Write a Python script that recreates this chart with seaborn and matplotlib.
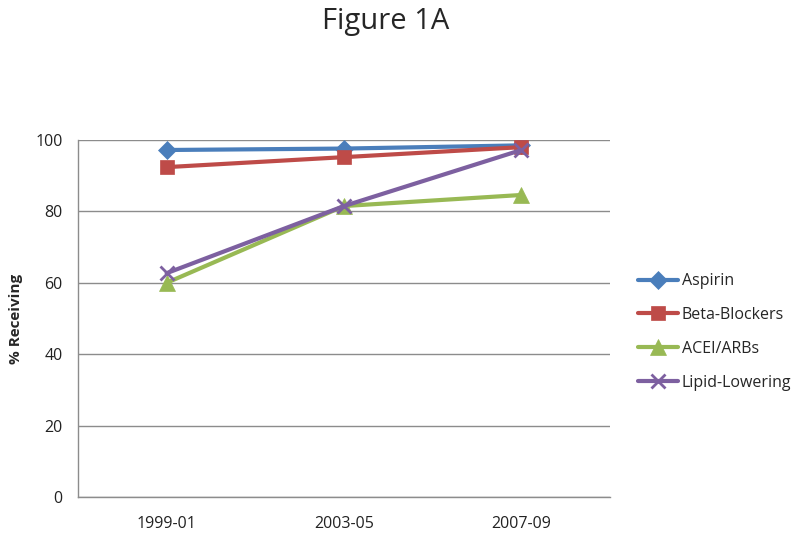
import matplotlib
matplotlib.use("Agg")
import matplotlib.pyplot as plt
import seaborn as sns
import pandas as pd

periods = ["1999-01", "2003-05", "2007-09"]
aspirin = [97.2, 97.6, 98.5]
beta_blockers = [92.4, 95.2, 98.0]
acei_arbs = [60.0, 81.5, 84.6]
lipid_lowering = [62.7, 81.5, 97.2]
series_names = ["Aspirin", "Beta-Blockers", "ACEI/ARBs", "Lipid-Lowering"]
y_ticks = [0, 20, 40, 60, 80, 100]

sns.set_theme(style="white")
plt.rcParams["font.family"] = ["Open Sans", "DejaVu Sans"]

series_vals = [aspirin, beta_blockers, acei_arbs, lipid_lowering]
colors = ["#4A7EBB", "#BE4B48", "#98B954", "#7D60A0"]
marker_list = ["D", "s", "^", "x"]
msizes = [9, 10, 11, 10]

fig = plt.figure(figsize=(8, 5.36), dpi=100)
ax = fig.add_axes([78/800, 1-497/536, (610-78)/800, (497-140)/536])

for name, vals, c, m, ms in zip(series_names, series_vals, colors, marker_list, msizes):
    d = pd.DataFrame({"period": periods, "value": vals})
    sns.lineplot(data=d, x="period", y="value", sort=False, color=c, marker=m,
                 markersize=ms, markeredgecolor=c, markerfacecolor=c,
                 markeredgewidth=2 if m == "x" else 0.5,
                 linewidth=3, label=name, ax=ax)

ax.set_xlim(-0.5, 2.5)
ax.set_ylim(0, 100)
ax.set_yticks(y_ticks)
ax.yaxis.grid(True, color="#8c8c8c", linewidth=1)
ax.set_axisbelow(True)
for s in ["top", "right"]:
    ax.spines[s].set_visible(False)
for s in ["left", "bottom"]:
    ax.spines[s].set_color("#8c8c8c")
    ax.spines[s].set_linewidth(1)
ax.tick_params(axis="both", length=0, labelsize=11.5, colors="#222222")
ax.tick_params(axis="x", pad=14)
ax.tick_params(axis="y", pad=11)
ax.set_xlabel("")
ax.set_ylabel("% Receiving", fontsize=11, fontweight="bold", labelpad=9)

leg = ax.legend(loc="center left", frameon=False,
                fontsize=11.5, handlelength=2.5, handletextpad=0.2, labelspacing=1.12,
                borderaxespad=0, bbox_to_anchor=(632/800, 1-332/536),
                bbox_transform=fig.transFigure)

fig.suptitle("Figure 1A", x=386/800, y=1-22/536, va="center", fontsize=21)

fig.savefig("out.png", dpi=100)
